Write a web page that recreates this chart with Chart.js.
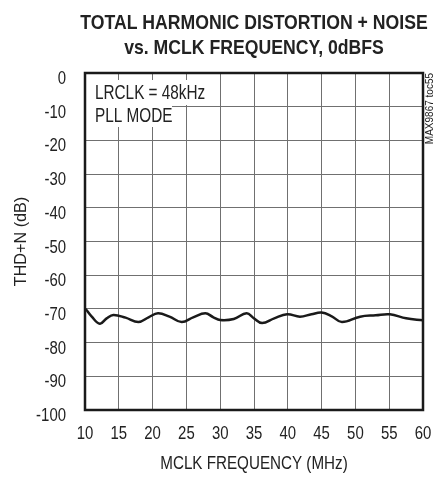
<!DOCTYPE html>
<html>
<head>
<meta charset="utf-8">
<script src="https://cdn.jsdelivr.net/npm/chart.js@4"></script>
<style>
  html, body { margin: 0; padding: 0; background: #fff; }
  #wrap { width: 441px; height: 477px; }
</style>
</head>
<body>
<div id="wrap"><canvas id="thdChart" width="441" height="477"></canvas></div>
<script>
// data
const mclkFreq = [10.1, 11.0, 12.2, 13.2, 14.2, 16.0, 17.9, 19.4, 20.8, 22.5, 24.3, 26.0, 27.8, 29.0, 30.0,
    32.0, 33.9, 35.0, 36.2, 38.0, 39.9, 41.8, 43.5, 45.0, 46.5, 48.0, 50.7, 53.0, 55.1, 57.5, 60.0];
const thdN = [-70.0, -72.3, -74.4, -72.8, -71.8, -72.6, -73.9, -72.5, -71.3, -72.3, -73.9, -72.5, -71.3, -72.5, -73.3,
    -73.0, -71.3, -72.8, -74.2, -72.8, -71.6, -72.3, -71.6, -71.1, -72.2, -73.9, -72.3, -71.9, -71.6, -72.8, -73.4];
const xTicks = [10, 15, 20, 25, 30, 35, 40, 45, 50, 55, 60];
const yTicks = [0, -10, -20, -30, -40, -50, -60, -70, -80, -90, -100];
const titleLines = ['TOTAL HARMONIC DISTORTION + NOISE', 'vs. MCLK FREQUENCY, 0dBFS'];
const xTitle = 'MCLK FREQUENCY (MHz)';
const yTitle = 'THD+N (dB)';
const noteLines = ['LRCLK = 48kHz', 'PLL MODE'];
const tocLabel = 'MAX9867 toc55';

const FONT = "'Liberation Sans', Arial, sans-serif";
const TEXT = '#222';

// no narrow face installed, so squeeze the regular one horizontally
function drawText(ctx, text, x, y, font, sx, align, baseline, rot) {
    ctx.save();
    ctx.translate(x, y);
    if (rot) ctx.rotate(rot);
    ctx.scale(sx, 1);
    ctx.font = font;
    ctx.fillStyle = TEXT;
    ctx.textAlign = align;
    ctx.textBaseline = baseline || 'alphabetic';
    ctx.fillText(text, 0, 0);
    ctx.restore();
}

const decorPlugin = {
    id: 'decor',
    beforeDatasetsDraw(chart) {
        const ctx = chart.ctx;
        const a = chart.chartArea;
        // white boxes behind the note text
        ctx.save();
        ctx.fillStyle = '#fff';
        ctx.fillRect(a.left + 1, 80, 122, 25);
        ctx.fillRect(a.left + 1, 105, 86, 22);
        ctx.restore();
        drawText(ctx, noteLines[0], a.left + 10, 99, '19.5px ' + FONT, 0.785, 'left');
        drawText(ctx, noteLines[1], a.left + 10, 122, '19.5px ' + FONT, 0.785, 'left');
    },
    afterDraw(chart) {
        const ctx = chart.ctx;
        const a = chart.chartArea;
        const xs = chart.scales.x;
        const ys = chart.scales.y;
        // frame
        ctx.save();
        ctx.strokeStyle = '#1a1a1a';
        ctx.lineWidth = 2.5;
        ctx.strokeRect(a.left, a.top, a.right - a.left, a.bottom - a.top);
        ctx.restore();

        const cx = (a.left + a.right) / 2;
        drawText(ctx, titleLines[0], cx, 28.5, 'bold 21px ' + FONT, 0.84, 'center');
        drawText(ctx, titleLines[1], cx, 54, 'bold 21px ' + FONT, 0.84, 'center');

        yTicks.forEach(v => {
            drawText(ctx, String(v), a.left - 19, ys.getPixelForValue(v) + 11, '18px ' + FONT, 0.83, 'right');
        });
        xTicks.forEach(v => {
            drawText(ctx, String(v), xs.getPixelForValue(v), 438.5, '18px ' + FONT, 0.83, 'center');
        });
        drawText(ctx, xTitle, cx, 469, '19px ' + FONT, 0.8, 'center');
        drawText(ctx, yTitle, 21, (a.top + a.bottom) / 2, '16.5px ' + FONT, 0.98, 'center', 'middle', -Math.PI / 2);
        drawText(ctx, tocLabel, 430, a.top, '10px ' + FONT, 1.0, 'right', 'middle', -Math.PI / 2);
    }
};

new Chart(document.getElementById('thdChart').getContext('2d'), {
    type: 'line',
    data: {
        datasets: [{
            data: mclkFreq.map((f, i) => ({ x: f, y: thdN[i] })),
            borderColor: '#1a1a1a',
            borderWidth: 2.5,
            pointRadius: 0,
            tension: 0.4,
            fill: false,
        }]
    },
    options: {
        responsive: false,
        animation: false,
        layout: { padding: { top: 73, right: 18, bottom: 0, left: 0 } },
        plugins: {
            legend: { display: false },
            tooltip: { enabled: false },
        },
        scales: {
            x: {
                type: 'linear',
                min: 10,
                max: 60,
                afterBuildTicks: (s) => { s.ticks = xTicks.map(v => ({ value: v })); },
                afterFit: (s) => { s.height = 67; },
                grid: { color: '#707070', lineWidth: 1, drawTicks: false },
                border: { display: false },
                ticks: { display: false },
            },
            y: {
                min: -100,
                max: 0,
                afterBuildTicks: (s) => { s.ticks = yTicks.map(v => ({ value: v })); },
                afterFit: (s) => { s.width = 85; },
                grid: { color: '#707070', lineWidth: 1, drawTicks: false },
                border: { display: false },
                ticks: { display: false },
            },
        },
    },
    plugins: [decorPlugin],
});
</script>
</body>
</html>
